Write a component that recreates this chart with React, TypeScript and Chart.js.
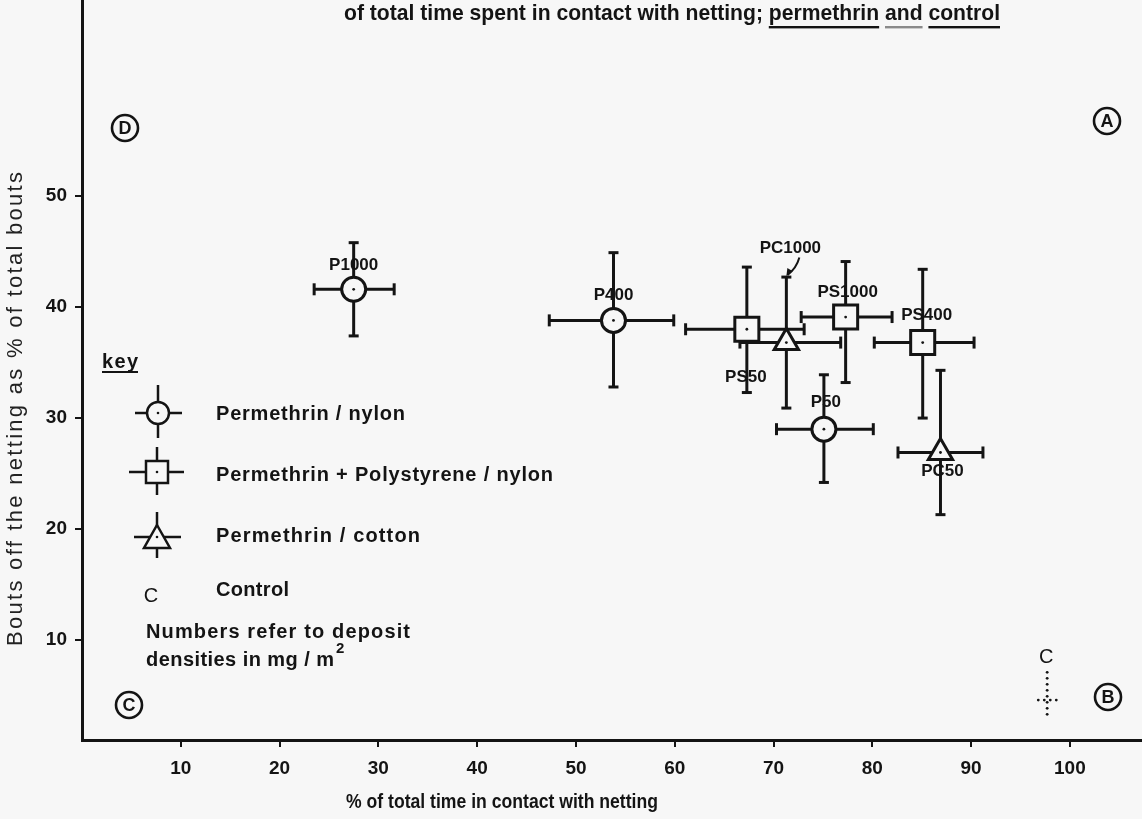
import React, { useEffect, useRef } from "react";
import { Chart, registerables } from "chart.js";

Chart.register(...registerables);

const FONT = '"Liberation Sans", Arial, Helvetica, sans-serif';
const INK = "#141414";
const PAPER = "#f7f7f7";

// ---- data ----
const pointLabels = ["P1000", "P400", "PS50", "PC1000", "PS1000", "PS400", "P50", "PC50"];
const pointGroups = ["nylon", "nylon", "polystyrene", "cotton", "polystyrene", "polystyrene", "nylon", "cotton"];
const timeInContact = [27.5, 53.8, 67.3, 71.3, 77.3, 85.1, 75.1, 86.9];
const timeLow = [23.5, 47.3, 61.1, 66.6, 72.8, 80.2, 70.3, 82.6];
const timeHigh = [31.6, 59.9, 73.1, 76.8, 82.0, 90.3, 80.1, 91.2];
const boutsOff = [41.6, 38.8, 38.0, 36.8, 39.1, 36.8, 29.0, 26.9];
const boutsLow = [37.4, 32.8, 32.3, 30.9, 33.2, 30.0, 24.2, 21.3];
const boutsHigh = [45.8, 44.9, 43.6, 42.7, 44.1, 43.4, 33.9, 34.3];

const controlTime = [97.7];
const controlTimeRange = [96.8, 99.0];
const controlBouts = [4.6];
const controlBoutsRange = [2.8, 7.1];

const xTickValues = [10, 20, 30, 40, 50, 60, 70, 80, 90, 100];
const yTickValues = [10, 20, 30, 40, 50];

const groupKeys = ["nylon", "polystyrene", "cotton"];
const groupNames = ["Permethrin / nylon", "Permethrin + Polystyrene / nylon", "Permethrin / cotton"];

const titleParts = ["of total time spent in contact with netting; ", "permethrin", " ", "and", " ", "control"];
const xTitle = "% of total time in contact with netting";
const yTitle = "Bouts off the netting as % of total bouts";

// ---- styles ----
const groupStyle: Record<string, { pointStyle: string; radius: number }> = {
  nylon: { pointStyle: "circle", radius: 12 },
  polystyrene: { pointStyle: "rect", radius: 17 },
  cotton: { pointStyle: "triangle", radius: 14 },
};
const labelOffsets = [
  [0, -24],
  [0, -25],
  [-1, 48],
  [4, -94],
  [2, -25],
  [4, -27],
  [2, -27],
  [2, 19],
];

function fitText(ctx: any, text: string, x: number, y: number, width: number, font: string, align = "left", color = INK) {
  ctx.save();
  ctx.font = font;
  ctx.fillStyle = color;
  ctx.textBaseline = "middle";
  ctx.textAlign = "left";
  ctx.letterSpacing = "0px";
  const w = ctx.measureText(text).width;
  let sx = 1;
  if (w > width) sx = width / w;
  else if (text.length > 1) ctx.letterSpacing = `${(width - w) / (text.length - 1)}px`;
  ctx.translate(x, y);
  ctx.scale(sx, 1);
  const startX = align === "center" ? -width / 2 / sx : 0;
  ctx.fillText(text, startX, 0);
  ctx.restore();
}

function line(ctx: any, x0: number, y0: number, x1: number, y1: number) {
  ctx.beginPath();
  ctx.moveTo(x0, y0);
  ctx.lineTo(x1, y1);
  ctx.stroke();
}

function dot(ctx: any, x: number, y: number, r = 1.6) {
  ctx.beginPath();
  ctx.arc(x, y, r, 0, Math.PI * 2);
  ctx.fill();
}

function circledLetter(ctx: any, letter: string, x: number, y: number) {
  ctx.save();
  ctx.strokeStyle = INK;
  ctx.lineWidth = 2.6;
  ctx.beginPath();
  ctx.arc(x, y, 13, 0, Math.PI * 2);
  ctx.stroke();
  ctx.fillStyle = INK;
  ctx.font = `bold 18px ${FONT}`;
  ctx.letterSpacing = "0px";
  ctx.textAlign = "center";
  ctx.textBaseline = "middle";
  ctx.fillText(letter, x, y + 1);
  ctx.restore();
}

function legendSymbol(ctx: any, kind: string, cx: number, cy: number, h: [number, number], v: [number, number]) {
  ctx.save();
  ctx.strokeStyle = INK;
  ctx.fillStyle = PAPER;
  ctx.lineWidth = 2.5;
  line(ctx, h[0], cy, h[1], cy);
  line(ctx, cx, v[0], cx, v[1]);
  ctx.beginPath();
  if (kind === "nylon") ctx.arc(cx, cy, 11, 0, Math.PI * 2);
  else if (kind === "polystyrene") ctx.rect(cx - 11, cy - 11, 22, 22);
  else {
    ctx.moveTo(cx, cy - 12);
    ctx.lineTo(cx + 13, cy + 11);
    ctx.lineTo(cx - 13, cy + 11);
    ctx.closePath();
  }
  ctx.fill();
  ctx.stroke();
  ctx.fillStyle = INK;
  dot(ctx, cx, cy, 1.3);
  ctx.restore();
}

const sketchPlugin = {
  id: "sketch",
  beforeDraw(chart: any) {
    const ctx = chart.ctx;
    ctx.save();
    ctx.fillStyle = PAPER;
    ctx.fillRect(0, 0, chart.width, chart.height);
    ctx.restore();
  },
  beforeDatasetsDraw(chart: any) {
    const ctx = chart.ctx;
    const xs = chart.scales.x;
    const ys = chart.scales.y;
    ctx.save();
    ctx.strokeStyle = INK;
    ctx.lineWidth = 3;
    pointLabels.forEach((_, i) => {
      const cx = xs.getPixelForValue(timeInContact[i]);
      const cy = ys.getPixelForValue(boutsOff[i]);
      const x0 = xs.getPixelForValue(timeLow[i]);
      const x1 = xs.getPixelForValue(timeHigh[i]);
      const y0 = ys.getPixelForValue(boutsLow[i]);
      const y1 = ys.getPixelForValue(boutsHigh[i]);
      line(ctx, x0, cy, x1, cy);
      line(ctx, cx, y0, cx, y1);
      line(ctx, x0, cy - 6, x0, cy + 6);
      line(ctx, x1, cy - 6, x1, cy + 6);
      line(ctx, cx - 5, y0, cx + 5, y0);
      line(ctx, cx - 5, y1, cx + 5, y1);
    });
    ctx.restore();
  },
  afterDatasetsDraw(chart: any) {
    const ctx = chart.ctx;
    const xs = chart.scales.x;
    const ys = chart.scales.y;
    ctx.save();
    ctx.fillStyle = INK;
    ctx.strokeStyle = INK;

    // centre dots and point labels
    pointLabels.forEach((lab, i) => {
      const cx = xs.getPixelForValue(timeInContact[i]);
      const cy = ys.getPixelForValue(boutsOff[i]);
      dot(ctx, cx, cy, 1.4);
      ctx.font = `bold 17px ${FONT}`;
      ctx.letterSpacing = "0px";
      ctx.textAlign = "center";
      ctx.textBaseline = "middle";
      const lx = cx + labelOffsets[i][0];
      const ly = cy + labelOffsets[i][1];
      ctx.fillText(lab, lx, ly);
      if (lab === "PC1000") {
        const ey = ys.getPixelForValue(boutsHigh[i]) - 2;
        ctx.lineWidth = 2;
        ctx.beginPath();
        ctx.moveTo(lx + 9, ly + 9);
        ctx.quadraticCurveTo(lx + 6, ly + 20, cx + 1, ey);
        ctx.stroke();
        ctx.beginPath();
        ctx.moveTo(cx, ey + 1);
        ctx.lineTo(cx + 1, ey - 7);
        ctx.lineTo(cx + 6, ey - 4);
        ctx.closePath();
        ctx.fill();
      }
    });

    // control (dotted cross)
    controlTime.forEach((t, i) => {
      const cx = xs.getPixelForValue(t);
      const cy = ys.getPixelForValue(controlBouts[i]);
      const xa = xs.getPixelForValue(controlTimeRange[0]);
      const xb = xs.getPixelForValue(controlTimeRange[1]);
      const ya = ys.getPixelForValue(controlBoutsRange[1]);
      const yb = ys.getPixelForValue(controlBoutsRange[0]);
      const step = 6;
      for (let y = ya; y <= yb + 0.1; y += step) dot(ctx, cx, y, 1.4);
      for (let x = xa; x <= xb + 0.1; x += step) dot(ctx, x, cy, 1.4);
      ctx.font = `20px ${FONT}`;
      ctx.letterSpacing = "0px";
      ctx.textAlign = "center";
      ctx.textBaseline = "middle";
      ctx.fillText("C", cx - 1, cy - 43);
    });

    // top title (second line of a cut-off caption)
    {
      ctx.font = `bold 22px ${FONT}`;
      ctx.letterSpacing = "0px";
      const full = titleParts.join("");
      const w = ctx.measureText(full).width;
      const target = 656;
      const sx = target / w;
      ctx.save();
      ctx.translate(344, 14);
      ctx.scale(sx, 1);
      ctx.textAlign = "left";
      ctx.textBaseline = "middle";
      let x = 0;
      titleParts.forEach((p, k) => {
        const pw = ctx.measureText(p).width;
        ctx.fillStyle = INK;
        ctx.fillText(p, x, 0);
        if (k === 1 || k === 3 || k === 5) {
          ctx.fillStyle = k === 3 ? "#8a8a8a" : INK;
          ctx.fillRect(x, 12, pw, 2.4);
        }
        x += pw;
      });
      ctx.restore();
    }

    // axis titles
    fitText(ctx, xTitle, 502, 802, 312, `bold 21px ${FONT}`, "center");
    ctx.save();
    ctx.translate(16, 409);
    ctx.rotate(-Math.PI / 2);
    fitText(ctx, yTitle, 0, 0, 474, `22px ${FONT}`, "center", "#222");
    ctx.restore();

    // circled quadrant letters
    circledLetter(ctx, "D", 125, 128);
    circledLetter(ctx, "A", 1107, 121);
    circledLetter(ctx, "C", 129, 705);
    circledLetter(ctx, "B", 1108, 697);

    // key
    fitText(ctx, "key", 102, 362, 36, `bold 20px ${FONT}`);
    ctx.fillRect(102, 371, 36, 2);
    legendSymbol(ctx, groupKeys[0], 158, 413, [135, 182], [385, 438]);
    legendSymbol(ctx, groupKeys[1], 157, 472, [129, 184], [447, 495]);
    legendSymbol(ctx, groupKeys[2], 157, 537, [134, 181], [512, 558]);
    fitText(ctx, groupNames[0], 216, 414, 189, `bold 20px ${FONT}`);
    fitText(ctx, groupNames[1], 216, 475, 337, `bold 20px ${FONT}`);
    fitText(ctx, groupNames[2], 216, 536, 204, `bold 20px ${FONT}`);
    ctx.font = `20px ${FONT}`;
    ctx.letterSpacing = "0px";
    ctx.textAlign = "center";
    ctx.textBaseline = "middle";
    ctx.fillStyle = INK;
    ctx.fillText("C", 151, 596);
    fitText(ctx, "Control", 216, 590, 73, `bold 20px ${FONT}`);
    fitText(ctx, "Numbers refer to deposit", 146, 632, 264, `bold 20px ${FONT}`);
    fitText(ctx, "densities in mg / m", 146, 660, 188, `bold 20px ${FONT}`);
    ctx.font = `bold 15px ${FONT}`;
    ctx.letterSpacing = "0px";
    ctx.textAlign = "left";
    ctx.fillText("2", 336, 649);

    ctx.restore();
  },
};

export default function App() {
  const ref = useRef<HTMLCanvasElement | null>(null);

  useEffect(() => {
    if (!ref.current) return;
    const datasets: any[] = groupKeys.map((g) => {
      const idx = pointLabels.map((_, i) => i).filter((i) => pointGroups[i] === g);
      const st = groupStyle[g];
      return {
        label: g,
        data: idx.map((i) => ({ x: timeInContact[i], y: boutsOff[i] })),
        pointStyle: st.pointStyle,
        pointRadius: st.radius,
        pointHoverRadius: st.radius,
        pointBorderWidth: 3,
        pointBorderColor: INK,
        pointBackgroundColor: PAPER,
        showLine: false,
      };
    });

    const chart = new Chart(ref.current, {
      type: "scatter",
      data: { datasets },
      options: {
        animation: false,
        responsive: false,
        devicePixelRatio: 1,
        layout: { padding: 0, autoPadding: false },
        events: [],
        plugins: {
          legend: { display: false },
          tooltip: { enabled: false },
          title: { display: false },
        },
        scales: {
          x: {
            type: "linear",
            min: 0,
            max: 107.3,
            afterBuildTicks: (s: any) => {
              s.ticks = xTickValues.map((v) => ({ value: v }));
            },
            afterFit: (s: any) => {
              s.height = 79;
              s.paddingLeft = 0;
              s.paddingRight = 0;
            },
            ticks: {
              color: INK,
              font: { family: FONT, size: 19, weight: "bold" },
              padding: 10,
              maxRotation: 0,
              autoSkip: false,
            },
            grid: { drawOnChartArea: false, drawTicks: true, tickLength: 7, color: INK, lineWidth: 2 },
            border: { display: true, color: INK, width: 3 },
          },
          y: {
            type: "linear",
            min: 1,
            max: 67.66,
            afterBuildTicks: (s: any) => {
              s.ticks = yTickValues.map((v) => ({ value: v }));
            },
            afterFit: (s: any) => {
              s.width = 82;
              s.paddingTop = 0;
              s.paddingBottom = 0;
            },
            ticks: {
              color: INK,
              font: { family: FONT, size: 19, weight: "bold" },
              padding: 8,
              autoSkip: false,
            },
            grid: { drawOnChartArea: false, drawTicks: true, tickLength: 7, color: INK, lineWidth: 2 },
            border: { display: true, color: INK, width: 3 },
          },
        },
      },
      plugins: [sketchPlugin],
    } as any);

    return () => chart.destroy();
  }, []);

  return (
    <div style={{ position: "absolute", left: 0, top: 0, width: 1142, height: 819, background: PAPER }}>
      <canvas ref={ref} width={1142} height={819} />
    </div>
  );
}
